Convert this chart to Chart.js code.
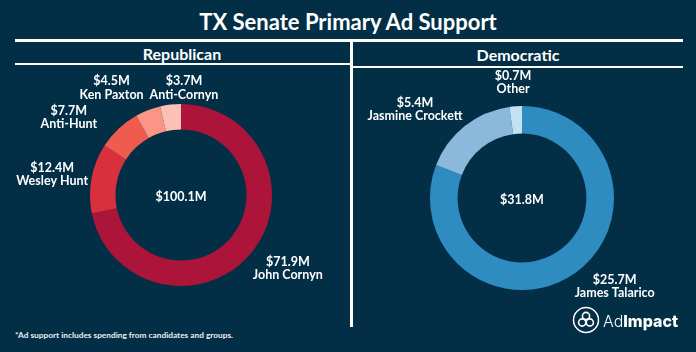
<!DOCTYPE html>
<html><head><meta charset="utf-8">
<script src="https://cdn.jsdelivr.net/npm/chart.js@4"></script>
<style>
html,body{margin:0;padding:0;}
body{width:696px;height:352px;background:#032f46;position:relative;overflow:hidden;font-family:Lato,"Open Sans",sans-serif;color:#fff;}
.abs{position:absolute;}
#title{left:0;width:696px;top:8px;text-align:center;font-size:22px;font-weight:700;letter-spacing:0px;}
.hd{font-size:16px;font-weight:700;text-align:center;}
.ln{background:#fff;}
#foot{left:15px;top:330px;font-size:8.3px;font-weight:700;color:#e8eef2;}
#logo{left:572px;top:305px;}
</style></head>
<body>
<div id="title" class="abs">TX Senate Primary Ad Support</div>
<div class="abs ln" style="left:15px;top:39px;width:668px;height:3px"></div>
<div class="abs ln" style="left:350px;top:40px;width:3px;height:287px"></div>
<div class="abs hd" style="left:15px;width:334px;top:44px">Republican</div>
<div class="abs hd" style="left:353px;width:330px;top:45px">Democratic</div>
<div class="abs ln" style="left:15px;top:63px;width:335px;height:2px"></div>
<div class="abs ln" style="left:353px;top:66px;width:330px;height:2px"></div>
<canvas id="rep" class="abs" style="left:0;top:68px" width="348" height="258"></canvas>
<canvas id="dem" class="abs" style="left:352px;top:70px" width="332" height="256"></canvas>
<div id="foot" class="abs">*Ad support includes spending from candidates and groups.</div>
<svg id="logo" class="abs" width="124" height="30" viewBox="0 0 124 30">
  <circle cx="14" cy="15" r="12.5" fill="none" stroke="#fff" stroke-width="1.5"/>
  <circle cx="14" cy="11" r="3.6" fill="none" stroke="#fff" stroke-width="1.6"/>
  <circle cx="10.2" cy="17.5" r="3.6" fill="none" stroke="#fff" stroke-width="1.6"/>
  <circle cx="17.8" cy="17.5" r="3.6" fill="none" stroke="#fff" stroke-width="1.6"/>
  <text x="31" y="21.5" fill="#fff" font-family="Inter, 'Open Sans', sans-serif" font-size="16.5" textLength="75" lengthAdjust="spacingAndGlyphs"><tspan font-weight="300">Ad</tspan><tspan font-weight="800">Impact</tspan></text>
</svg>
<script>
const repLabels = ['John Cornyn','Wesley Hunt','Anti-Hunt','Ken Paxton','Anti-Cornyn'];
const repValues = [71.9, 12.4, 7.7, 4.5, 3.7];
const repTotal = 100.1;
const demLabels = ['James Talarico','Jasmine Crockett','Other'];
const demValues = [25.7, 5.4, 0.7];
const demTotal = 31.8;

const repColors = ['#ad1439','#d9303e','#f05b50','#fb9585','#fdc0b6'];
const demColors = ['#2e8cc0','#8bb9dc','#c2e1f5'];
// label nudges (style): [dx, dy] from anchor at radius 130 along slice mid-angle
const repNudge = [[6,-9],[-1,3],[-23,17],[-22,14],[18,22]];
const demNudge = [[19,-19],[-26,13],[0,14]];

function fmt(v){return '$'+v.toFixed(1)+'M';}

function labelPlugin(labels, values, total, nudge){
  return {
    id:'lbl',
    afterDraw(chart){
      const ctx = chart.ctx;
      const meta = chart.getDatasetMeta(0);
      ctx.save();
      ctx.fillStyle = '#ffffff';
      ctx.textAlign = 'center';
      ctx.textBaseline = 'middle';
      ctx.font = '700 12.5px Lato, "Open Sans", sans-serif';
      let cx=0, cy=0;
      meta.data.forEach((arc, i) => {
        const p = arc.getProps(['x','y','startAngle','endAngle','outerRadius'], true);
        cx = p.x; cy = p.y;
        const mid = (p.startAngle + p.endAngle)/2;
        const R = 130;
        const ax = p.x + Math.cos(mid)*R + nudge[i][0];
        const ay = p.y + Math.sin(mid)*R + nudge[i][1];
        ctx.fillText(fmt(values[i]), ax, ay-6.5);
        ctx.fillText(labels[i], ax, ay+7);
      });
      ctx.fillText(fmt(total), cx, cy+2);
      ctx.restore();
    }
  };
}

function makeChart(id, labels, values, colors, total, nudge, pad, cutout){
  new Chart(document.getElementById(id), {
    type:'doughnut',
    data:{labels:labels, datasets:[{data:values, backgroundColor:colors, borderWidth:0, hoverOffset:0}]},
    options:{
      responsive:false, animation:false, cutout:cutout,
      layout:{padding:pad},
      plugins:{legend:{display:false}, tooltip:{enabled:false}}
    },
    plugins:[labelPlugin(labels, values, total, nudge)]
  });
}
makeChart('rep', repLabels, repValues, repColors, repTotal, repNudge, {left:90,right:348-272,top:36,bottom:258-218}, '72%');
makeChart('dem', demLabels, demValues, demColors, demTotal, demNudge, {left:78,right:332-262,top:36,bottom:256-220}, '70%');
</script>
</body></html>
